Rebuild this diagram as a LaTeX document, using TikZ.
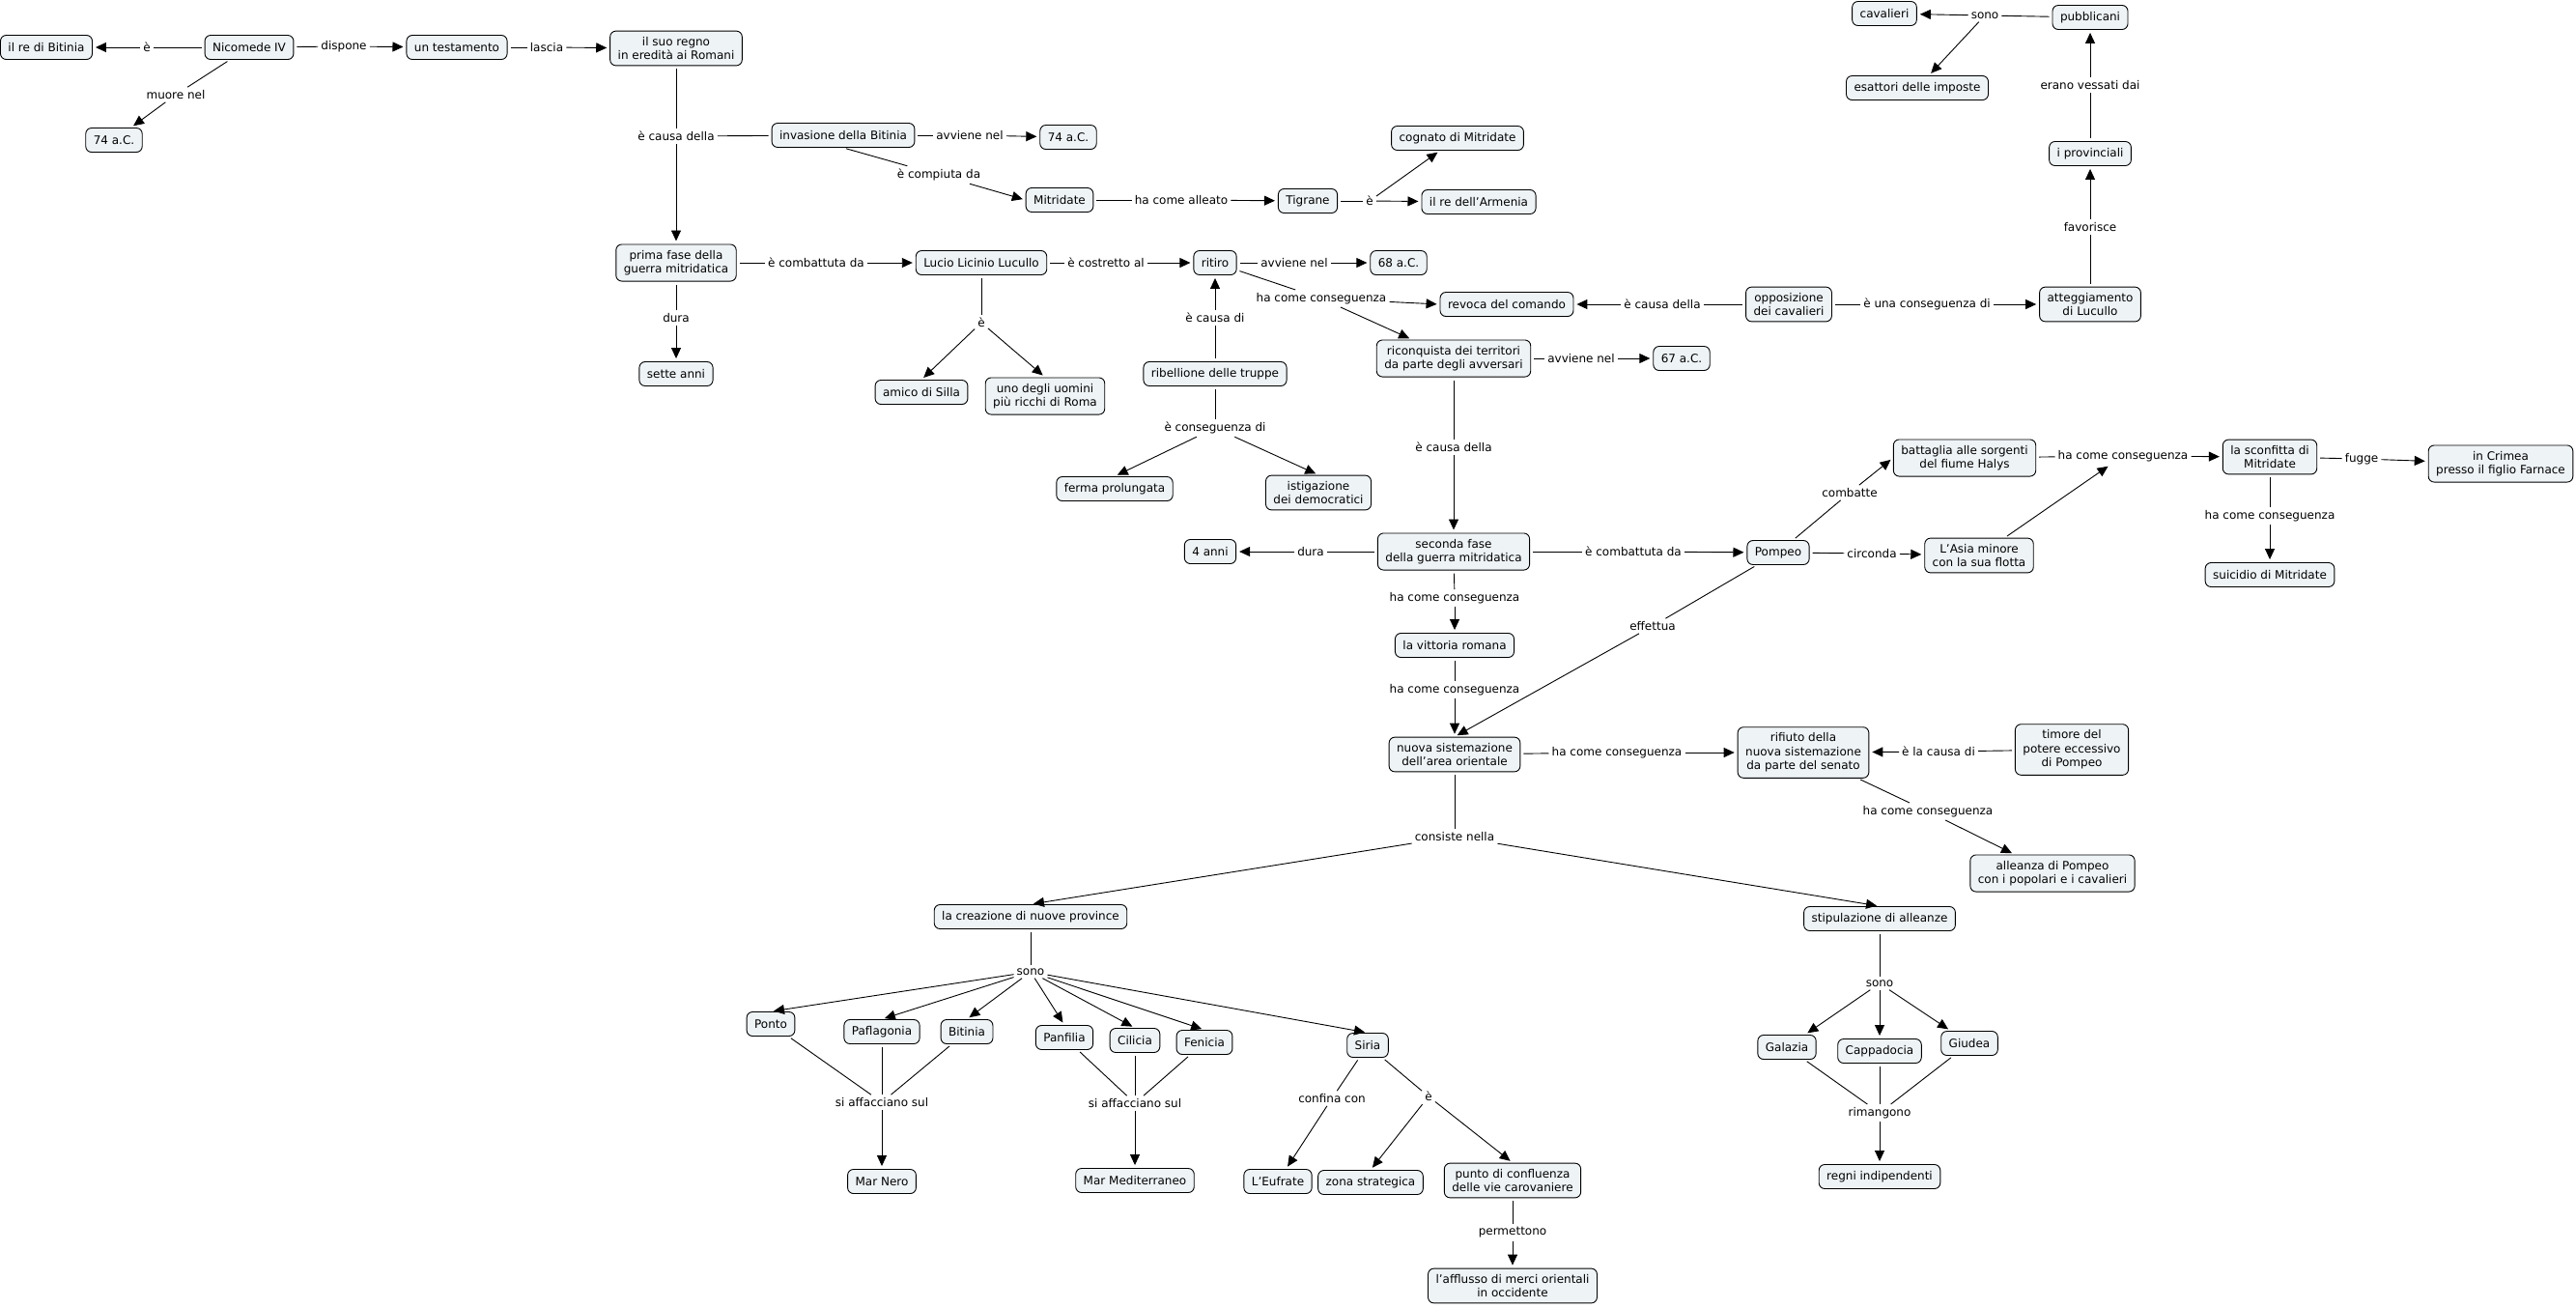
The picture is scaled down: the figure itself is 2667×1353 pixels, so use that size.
\documentclass[tikz,border=0pt]{standalone}
\usepackage{fontspec}
\setmainfont{DejaVu Sans}
\usetikzlibrary{arrows.meta}
\definecolor{boxfill}{RGB}{238,243,246}
\begin{document}
\begin{tikzpicture}[x=1pt,y=-1pt,
  every node/.style={font=\fontsize{12}{14.5}\selectfont, align=center},
  concept/.style={draw=black, fill=boxfill, rounded corners=6pt, line width=0.9pt, inner xsep=8pt, inner ysep=6pt, minimum height=25pt},
  lbl/.style={inner sep=3pt},
  ln/.style={draw=black, line width=0.9pt, shorten <=3pt},
  ar/.style={draw=black, line width=0.9pt, shorten >=3pt, -{Triangle[length=11pt,width=10pt]}},
]
\useasboundingbox (0,0) rectangle (2667,1353);

% ---------- concepts ----------
\node[concept] (rebit) at (48,49) {il re di Bitinia};
\node[concept] (nic) at (258,49) {Nicomede IV};
\node[concept] (test) at (473,49) {un testamento};
\node[concept] (regno) at (700,50) {il suo regno\\in eredità ai Romani};
\node[concept] (a74l) at (118,145) {74 a.C.};
\node[concept] (inv) at (873,140) {invasione della Bitinia};
\node[concept] (a74r) at (1106,142) {74 a.C.};
\node[concept] (mitr) at (1097,207) {Mitridate};
\node[concept] (tigr) at (1354,208) {Tigrane};
\node[concept] (cogn) at (1509,143) {cognato di Mitridate};
\node[concept] (arm) at (1531,209) {il re dell'Armenia};
\node[concept] (prima) at (700,272) {prima fase della\\guerra mitridatica};
\node[concept] (sette) at (700,387) {sette anni};
\node[concept] (luc) at (1016,272) {Lucio Licinio Lucullo};
\node[concept] (amico) at (954,406) {amico di Silla};
\node[concept] (uno) at (1082,410) {uno degli uomini\\più ricchi di Roma};
\node[concept] (rit) at (1258,272) {ritiro};
\node[concept] (a68) at (1448,272) {68 a.C.};
\node[concept] (ribel) at (1258,387) {ribellione delle truppe};
\node[concept] (ferma) at (1154,506) {ferma prolungata};
\node[concept] (istig) at (1365,510) {istigazione\\dei democratici};
\node[concept] (revoca) at (1560,315) {revoca del comando};
\node[concept] (ricon) at (1505,371) {riconquista dei territori\\da parte degli avversari};
\node[concept] (a67) at (1741,371) {67 a.C.};
\node[concept] (oppo) at (1852,315) {opposizione\\dei cavalieri};
\node[concept] (atteg) at (2164,315) {atteggiamento\\di Lucullo};
\node[concept] (prov) at (2164,159) {i provinciali};
\node[concept] (pubb) at (2164,18) {pubblicani};
\node[concept] (cav) at (1951,14) {cavalieri};
\node[concept] (esatt) at (1985,91) {esattori delle imposte};
\node[concept] (sec) at (1505,571) {seconda fase\\della guerra mitridatica};
\node[concept] (anni4) at (1253,571) {4 anni};
\node[concept] (pomp) at (1841,572) {Pompeo};
\node[concept] (batt) at (2034,474) {battaglia alle sorgenti\\del fiume Halys};
\node[concept] (asia) at (2049,575) {L'Asia minore\\con la sua flotta};
\node[concept] (sconf) at (2350,473) {la sconfitta di\\Mitridate};
\node[concept] (crim) at (2589,480) {in Crimea\\presso il figlio Farnace};
\node[concept] (suic) at (2350,595) {suicidio di Mitridate};
\node[concept] (vitt) at (1506,668) {la vittoria romana};
\node[concept] (nuova) at (1506,781) {nuova sistemazione\\dell'area orientale};
\node[concept] (rif) at (1867,779) {rifiuto della\\nuova sistemazione\\da parte del senato};
\node[concept] (tim) at (2145,776) {timore del\\potere eccessivo\\di Pompeo};
\node[concept] (alle) at (2125,904) {alleanza di Pompeo\\con i popolari e i cavalieri};
\node[concept] (crea) at (1067,949) {la creazione di nuove province};
\node[concept] (stip) at (1946,951) {stipulazione di alleanze};
\node[concept] (ponto) at (798,1060) {Ponto};
\node[concept] (pafl) at (913,1068) {Paflagonia};
\node[concept] (bit) at (1001,1068) {Bitinia};
\node[concept] (panf) at (1102,1074) {Panfilia};
\node[concept] (cil) at (1175,1077) {Cilicia};
\node[concept] (fen) at (1247,1079) {Fenicia};
\node[concept] (siria) at (1416,1082) {Siria};
\node[concept] (nero) at (913,1223) {Mar Nero};
\node[concept] (medit) at (1175,1222) {Mar Mediterraneo};
\node[concept] (eufr) at (1323,1223) {L'Eufrate};
\node[concept] (zona) at (1419,1224) {zona strategica};
\node[concept] (punto) at (1566,1222) {punto di confluenza\\delle vie carovaniere};
\node[concept] (affl) at (1566,1331) {l'afflusso di merci orientali\\in occidente};
\node[concept] (gal) at (1850,1084) {Galazia};
\node[concept] (capp) at (1946,1088) {Cappadocia};
\node[concept] (giud) at (2039,1080) {Giudea};
\node[concept] (regni) at (1946,1218) {regni indipendenti};

% ---------- linking phrases ----------
\node[lbl] (l1) at (152,49) {è};
\node[lbl] (l2) at (356,48) {dispone};
\node[lbl] (l3) at (566,49) {lascia};
\node[lbl] (l4) at (182,98) {muore nel};
\node[lbl] (l5) at (700,141) {è causa della};
\node[lbl] (l6) at (1004,140) {avviene nel};
\node[lbl] (l7) at (972,181) {è compiuta da};
\node[lbl] (l8) at (1223,207) {ha come alleato};
\node[lbl] (l9) at (1418,208) {è};
\node[lbl] (l10) at (845,272) {è combattuta da};
\node[lbl] (l11) at (700,329) {dura};
\node[lbl] (l12) at (1145,272) {è costretto al};
\node[lbl] (l13) at (1016,334) {è};
\node[lbl] (l14) at (1340,272) {avviene nel};
\node[lbl] (l15) at (1368,309) {ha come conseguenza};
\node[lbl] (l16) at (1258,329) {è causa di};
\node[lbl] (l17) at (1258,443) {è conseguenza di};
\node[lbl] (l18) at (1721,315) {è causa della};
\node[lbl] (l19) at (1995,315) {è una conseguenza di};
\node[lbl] (l20) at (2164,235) {favorisce};
\node[lbl] (l21) at (2164,88) {erano vessati dai};
\node[lbl] (l22) at (2055,16) {sono};
\node[lbl] (l23) at (1637,371) {avviene nel};
\node[lbl] (l24) at (1505,463) {è causa della};
\node[lbl] (l25) at (1357,571) {dura};
\node[lbl] (l26) at (1691,571) {è combattuta da};
\node[lbl] (l27) at (1915,510) {combatte};
\node[lbl] (l28) at (1938,573) {circonda};
\node[lbl] (l29) at (2198,472) {ha come conseguenza};
\node[lbl] (l30) at (2445,475) {fugge};
\node[lbl] (l31) at (2350,534) {ha come conseguenza};
\node[lbl] (l32) at (1506,619) {ha come conseguenza};
\node[lbl] (l33) at (1711,648) {effettua};
\node[lbl] (l34) at (1506,714) {ha come conseguenza};
\node[lbl] (l35) at (1674,779) {ha come conseguenza};
\node[lbl] (l36) at (2007,778) {è la causa di};
\node[lbl] (l37) at (1996,840) {ha come conseguenza};
\node[lbl] (l38) at (1506,866) {consiste nella};
\node[lbl] (l39) at (1067,1006) {sono};
\node[lbl] (l40) at (913,1141) {si affacciano sul};
\node[lbl] (l41) at (1175,1142) {si affacciano sul};
\node[lbl] (l42) at (1379,1137) {confina con};
\node[lbl] (l43) at (1479,1135) {è};
\node[lbl] (l44) at (1566,1276) {permettono};
\node[lbl] (l45) at (1946,1018) {sono};
\node[lbl] (l46) at (1946,1152) {rimangono};

% ---------- connectors ----------
\draw[ln] (nic) -- (l1); \draw[ar] (l1) -- (rebit);
\draw[ln] (nic) -- (l2); \draw[ar] (l2) -- (test);
\draw[ln] (test) -- (l3); \draw[ar] (l3) -- (regno);
\draw[ln] (nic) -- (l4); \draw[ar] (l4) -- (a74l);
\draw[ln] (regno) -- (l5); \draw[ln] (inv) -- (l5); \draw[ar] (l5) -- (prima);
\draw[ln] (inv) -- (l6); \draw[ar] (l6) -- (a74r);
\draw[ln] (inv.south) -- (l7); \draw[ar] (l7) -- (mitr.west);
\draw[ln] (mitr) -- (l8); \draw[ar] (l8) -- (tigr);
\draw[ln] (tigr) -- (l9); \draw[ar] (l9) -- (arm); \draw[ar] (l9) -- (cogn);
\draw[ln] (prima) -- (l10); \draw[ar] (l10) -- (luc);
\draw[ln] (prima) -- (l11); \draw[ar] (l11) -- (sette);
\draw[ln] (luc) -- (l12); \draw[ar] (l12) -- (rit);
\draw[ln] (luc) -- (l13); \draw[ar] (l13) -- (amico.north); \draw[ar] (l13) -- (uno.north);
\draw[ln] (rit) -- (l14); \draw[ar] (l14) -- (a68);
\draw[ln] (rit) -- (l15); \draw[ar] (l15) -- (revoca.west); \draw[ar] (l15) -- (ricon);
\draw[ln] (ribel) -- (l16); \draw[ar] (l16) -- (rit);
\draw[ln] (ribel) -- (l17); \draw[ar] (l17) -- (ferma.north); \draw[ar] (l17) -- (istig.north);
\draw[ln] (oppo) -- (l18); \draw[ar] (l18) -- (revoca);
\draw[ln] (oppo) -- (l19); \draw[ar] (l19) -- (atteg);
\draw[ln] (atteg) -- (l20); \draw[ar] (l20) -- (prov);
\draw[ln] (prov) -- (l21); \draw[ar] (l21) -- (pubb);
\draw[ln] (pubb) -- (l22); \draw[ar] (l22) -- (cav); \draw[ar] (l22) -- (esatt);
\draw[ln] (ricon) -- (l23); \draw[ar] (l23) -- (a67);
\draw[ln] (ricon) -- (l24); \draw[ar] (l24) -- (sec);
\draw[ln] (sec) -- (l25); \draw[ar] (l25) -- (anni4);
\draw[ln] (sec) -- (l26); \draw[ar] (l26) -- (pomp);
\draw[ln] (pomp) -- (l27); \draw[ar] (l27) -- (batt.west);
\draw[ln] (pomp) -- (l28); \draw[ar] (l28) -- (asia);
\draw[ln] (batt) -- (l29); \draw[ar, shorten <=3pt] (asia) -- (l29); \draw[ar] (l29) -- (sconf);
\draw[ln] (sconf) -- (l30); \draw[ar] (l30) -- (crim);
\draw[ln] (sconf) -- (l31); \draw[ar] (l31) -- (suic);
\draw[ln] (sec) -- (l32); \draw[ar] (l32) -- (vitt);
\draw[ln] (pomp) -- (l33); \draw[ar] (l33) -- (nuova.north);
\draw[ln] (vitt) -- (l34); \draw[ar] (l34) -- (nuova);
\draw[ln] (nuova) -- (l35); \draw[ar] (l35) -- (rif);
\draw[ln] (tim) -- (l36); \draw[ar] (l36) -- (rif);
\draw[ln] (rif) -- (l37); \draw[ar] (l37) -- (alle);
\draw[ln] (nuova) -- (l38); \draw[ar] (l38) -- (crea.north); \draw[ar] (l38) -- (stip.north);
\draw[ln] (crea) -- (l39);
\draw[ar] (l39) -- (ponto.north); \draw[ar] (l39) -- (pafl.north); \draw[ar] (l39) -- (bit.north);
\draw[ar] (l39) -- (panf.north); \draw[ar] (l39) -- (cil.north); \draw[ar] (l39) -- (fen.north);
\draw[ar] (l39) -- (siria.north);
\draw[ln] (ponto) -- (l40); \draw[ln] (pafl) -- (l40); \draw[ln] (bit) -- (l40); \draw[ar] (l40) -- (nero);
\draw[ln] (panf) -- (l41); \draw[ln] (cil) -- (l41); \draw[ln] (fen) -- (l41); \draw[ar] (l41) -- (medit);
\draw[ln] (siria) -- (l42); \draw[ar] (l42) -- (eufr);
\draw[ln] (siria) -- (l43); \draw[ar] (l43) -- (zona.north); \draw[ar] (l43) -- (punto.north);
\draw[ln] (punto) -- (l44); \draw[ar] (l44) -- (affl);
\draw[ln] (stip) -- (l45); \draw[ar] (l45) -- (gal); \draw[ar] (l45) -- (capp); \draw[ar] (l45) -- (giud);
\draw[ln] (gal) -- (l46); \draw[ln] (capp) -- (l46); \draw[ln] (giud) -- (l46); \draw[ar] (l46) -- (regni);
\end{tikzpicture}
\end{document}
